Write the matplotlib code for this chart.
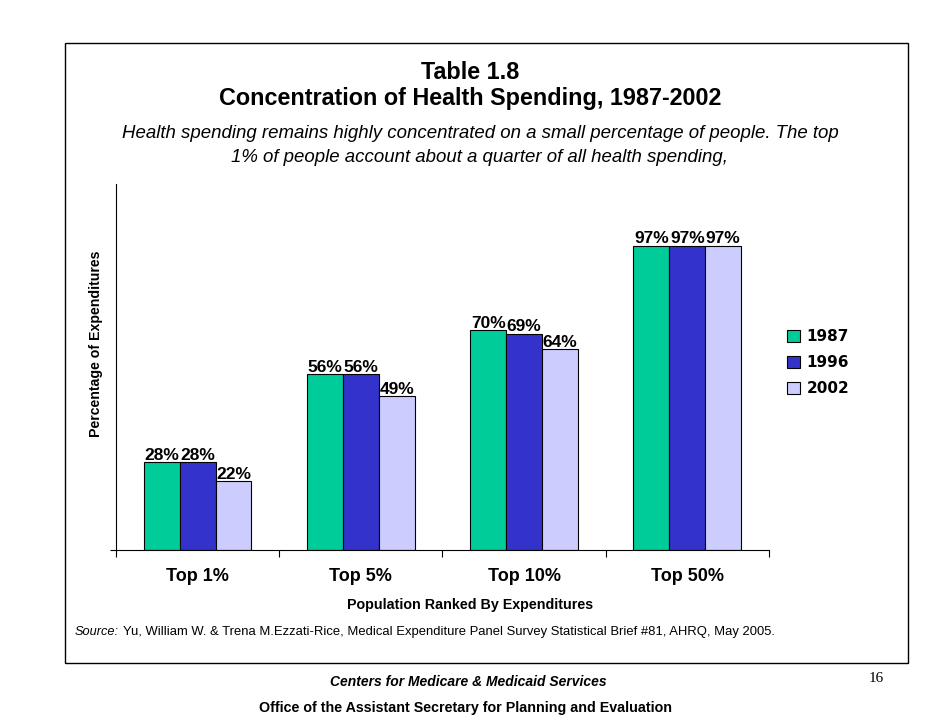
import numpy as np
import matplotlib.pyplot as plt
from matplotlib.patches import Rectangle

plt.rcParams['font.family'] = ['Liberation Sans', 'DejaVu Sans']

# data
groups = ['Top 1%', 'Top 5%', 'Top 10%', 'Top 50%']
years = ['1987', '1996', '2002']
share_1987 = [28, 56, 70, 97]
share_1996 = [28, 56, 69, 97]
share_2002 = [22, 49, 64, 97]
colors = ['#00CC99', '#3333CC', '#CCCCFF']

fig = plt.figure(figsize=(9.42, 7.28), dpi=100)
ax = fig.add_axes([0.1231, 0.2445, 0.8163 - 0.1231, 0.7473 - 0.2445])

x = np.arange(len(groups))
w = 0.22
series = [share_1987, share_1996, share_2002]
for i, (vals, yr, c) in enumerate(zip(series, years, colors)):
    bars = ax.bar(x + (i - 1) * w, vals, w, color=c, edgecolor='black',
                  linewidth=0.8, label=yr)
    for b, v in zip(bars, vals):
        ax.text(b.get_x() + b.get_width() / 2, v - 0.2, f'{v}%',
                ha='center', va='bottom', fontsize=12.5, fontweight='bold')

ax.set_xlim(-0.5, 3.5)
ax.set_ylim(0, 116.7)
ax.set_xticks(np.arange(-0.5, 4.0, 1.0))
ax.set_xticklabels([])
ax.set_xticks(x, minor=True)
ax.set_xticklabels(groups, minor=True, fontsize=13, fontweight='bold')
ax.tick_params(axis='x', which='major', direction='out', length=5, width=0.8)
ax.tick_params(axis='x', which='minor', length=0, pad=13)
ax.set_yticks([0])
ax.set_yticklabels([])
ax.tick_params(axis='y', direction='out', length=4, width=0.8)
ax.spines['top'].set_visible(False)
ax.spines['right'].set_visible(False)
ax.spines['left'].set_linewidth(0.8)
ax.spines['bottom'].set_linewidth(0.8)

ax.set_xlabel('Population Ranked By Expenditures', fontsize=10.3, fontweight='bold')
ax.xaxis.set_label_coords(0.542, -0.132)
ax.set_ylabel('Percentage of Expenditures', fontsize=10.2, fontweight='bold')
ax.yaxis.set_label_coords(-0.02, 0.563)

leg = ax.legend(loc='upper left', bbox_to_anchor=(1.006, 0.64), frameon=False,
                prop={'weight': 'bold', 'size': 11, 'family': 'DejaVu Sans'},
                handlelength=0.85, handleheight=0.85, handletextpad=0.45,
                labelspacing=0.72)

# outer frame
fig.patches.append(Rectangle((0.0685, 0.0893), 0.964 - 0.0685, 0.941 - 0.0893,
                             transform=fig.transFigure, fill=False,
                             edgecolor='black', linewidth=1.0))

fig.text(0.499, 0.901, 'Table 1.8', ha='center', va='center', fontsize=16.8,
         fontweight='bold')
fig.text(0.499, 0.865, 'Concentration of Health Spending, 1987-2002',
         ha='center', va='center', fontsize=16.8, fontweight='bold')
fig.text(0.510, 0.817, 'Health spending remains highly concentrated on a small '
         'percentage of people. The top', ha='center', va='center',
         fontsize=13.4, style='italic')
fig.text(0.509, 0.783, '1% of people account about a quarter of all health spending,',
         ha='center', va='center', fontsize=13.4, style='italic')

fig.text(0.079, 0.132, 'Source:', ha='left', va='center', fontsize=9.2,
         style='italic')
fig.text(0.1302, 0.132, 'Yu, William W. & Trena M.Ezzati-Rice, Medical Expenditure '
         'Panel Survey Statistical Brief #81, AHRQ, May 2005.', ha='left',
         va='center', fontsize=9.4)

fig.text(0.497, 0.063, 'Centers for Medicare & Medicaid Services', ha='center',
         va='center', fontsize=10, fontweight='bold', style='italic')
fig.text(0.494, 0.027, 'Office of the Assistant Secretary for Planning and Evaluation',
         ha='center', va='center', fontsize=10.3, fontweight='bold')
fig.text(0.930, 0.068, '16', ha='center', va='center', fontsize=11,
         family='Liberation Serif')

fig.savefig('out.png', dpi=100)
